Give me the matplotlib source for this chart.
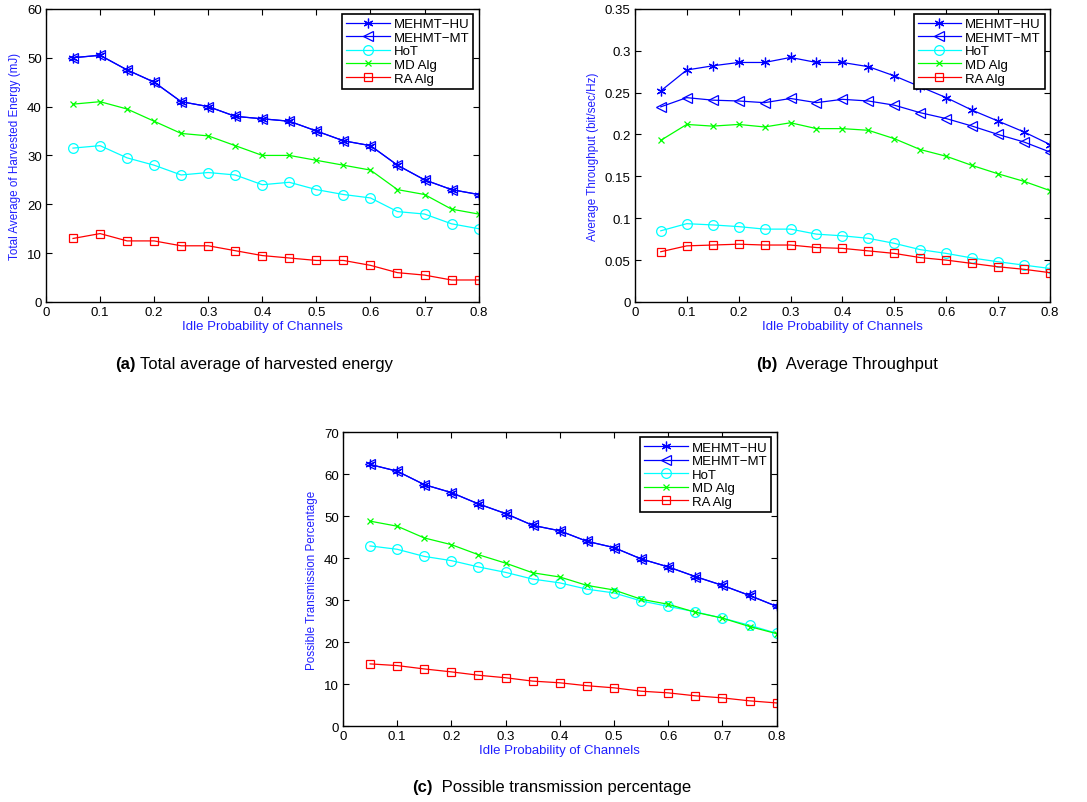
# ------------------------------------------------------------
# Harvested energy / throughput / transmission vs idle probability
# ------------------------------------------------------------
import matplotlib
matplotlib.use("Agg")
import matplotlib.pyplot as plt

plt.rcParams["font.family"] = ["Liberation Sans", "DejaVu Sans"]

# ------------------------------------------------------------
# Data
# ------------------------------------------------------------
idle_prob = [0.05, 0.10, 0.15, 0.20, 0.25, 0.30, 0.35, 0.40,
             0.45, 0.50, 0.55, 0.60, 0.65, 0.70, 0.75, 0.80]
series_names = ["MEHMT\u2212HU", "MEHMT\u2212MT", "HoT", "MD Alg", "RA Alg"]

# (a) total average of harvested energy (mJ)
energy_hu = [50, 50.5, 47.5, 45, 41, 40, 38, 37.5, 37, 35, 33, 32, 28, 25, 23, 22]
energy_mt = [50, 50.5, 47.5, 45, 41, 40, 38, 37.5, 37, 35, 33, 32, 28, 25, 23, 22]
energy_hot = [31.5, 32, 29.5, 28, 26, 26.5, 26, 24, 24.5, 23, 22, 21.3, 18.5, 18, 16, 15]
energy_md = [40.5, 41, 39.5, 37, 34.5, 34, 32, 30, 30, 29, 28, 27, 23, 22, 19, 18]
energy_ra = [13, 14, 12.5, 12.5, 11.5, 11.5, 10.5, 9.5, 9, 8.5, 8.5, 7.5, 6, 5.5, 4.5, 4.5]

# (b) average throughput (bit/sec/Hz)
thr_hu = [0.252, 0.277, 0.282, 0.286, 0.286, 0.292, 0.286, 0.286,
          0.281, 0.270, 0.257, 0.244, 0.229, 0.216, 0.203, 0.188]
thr_mt = [0.233, 0.244, 0.241, 0.240, 0.238, 0.243, 0.238, 0.242,
          0.240, 0.235, 0.226, 0.219, 0.210, 0.200, 0.191, 0.179]
thr_hot = [0.085, 0.0935, 0.092, 0.090, 0.087, 0.087, 0.081, 0.079,
           0.076, 0.070, 0.0625, 0.058, 0.0525, 0.048, 0.044, 0.040]
thr_md = [0.193, 0.212, 0.210, 0.212, 0.209, 0.214, 0.207, 0.207,
          0.205, 0.195, 0.182, 0.174, 0.163, 0.153, 0.144, 0.133]
thr_ra = [0.060, 0.067, 0.068, 0.069, 0.068, 0.068, 0.065, 0.064,
          0.061, 0.058, 0.053, 0.050, 0.046, 0.042, 0.039, 0.035]

# (c) possible transmission percentage
tx_hu = [62.3, 60.7, 57.5, 55.6, 52.9, 50.6, 47.8, 46.5,
         44.0, 42.5, 39.8, 37.9, 35.6, 33.5, 31.1, 28.5]
tx_mt = [62.3, 60.7, 57.5, 55.6, 52.9, 50.6, 47.8, 46.5,
         44.0, 42.5, 39.8, 37.9, 35.6, 33.5, 31.1, 28.5]
tx_hot = [42.9, 42.1, 40.4, 39.4, 37.9, 36.6, 35.0, 34.1,
          32.6, 31.7, 29.8, 28.5, 27.2, 25.7, 24.0, 22.1]
tx_md = [48.8, 47.6, 44.8, 43.2, 40.8, 38.8, 36.5, 35.5,
         33.5, 32.4, 30.2, 29.0, 27.1, 25.7, 23.7, 22.0]
tx_ra = [14.8, 14.4, 13.6, 12.9, 12.1, 11.5, 10.7, 10.3,
         9.6, 9.1, 8.3, 7.9, 7.2, 6.7, 6.0, 5.5]

# ------------------------------------------------------------
# Styles (MATLAB-like)
# ------------------------------------------------------------
styles = [
    dict(color="#0000ff", marker=(6, 2, 0), ms=7, mfc="none"),
    dict(color="#0000ff", marker="<", ms=7, mfc="none"),
    dict(color="#00ffff", marker="o", ms=7, mfc="none"),
    dict(color="#00ff00", marker="x", ms=5, mfc="none"),
    dict(color="#ff0000", marker="s", ms=6, mfc="none"),
]
label_blue = "#2020ff"


def draw_panel(ax, series, ylim, yticks, ylabel):
    for vals, name, st in zip(series, series_names, styles):
        ax.plot(idle_prob, vals, lw=0.9, mew=0.9, label=name, **st)
    ax.set_xlim(0, 0.8)
    ax.set_ylim(*ylim)
    ax.set_xticks([0, 0.1, 0.2, 0.3, 0.4, 0.5, 0.6, 0.7, 0.8])
    ax.set_xticklabels(["0", "0.1", "0.2", "0.3", "0.4", "0.5", "0.6", "0.7", "0.8"])
    ax.set_yticks(yticks)
    ax.set_yticklabels([f"{v:g}" for v in yticks])
    ax.tick_params(direction="in", top=True, right=True, labelsize=9.5,
                   length=4, width=0.8, pad=3)
    for sp in ax.spines.values():
        sp.set_linewidth(1.0)
    ax.set_xlabel("Idle Probability of Channels", color=label_blue, fontsize=9.5, labelpad=1)
    ax.set_ylabel(ylabel, color=label_blue, fontsize=8.4, labelpad=4)
    leg = ax.legend(loc="upper right", fontsize=9.5, handlelength=3.3,
                    borderpad=0.3, labelspacing=0.1, handletextpad=0.3,
                    fancybox=False, framealpha=1, borderaxespad=0.4)
    leg.get_frame().set_edgecolor("black")
    leg.get_frame().set_linewidth(1.2)


fig = plt.figure(figsize=(10.87, 8.03), dpi=100)

ax_a = fig.add_axes([0.0423, 0.6227, 0.398, 0.365])
draw_panel(ax_a, [energy_hu, energy_mt, energy_hot, energy_md, energy_ra],
           (0, 60), [0, 10, 20, 30, 40, 50, 60],
           "Total Average of Harvested Energy (mJ)")

ax_b = fig.add_axes([0.584, 0.6227, 0.382, 0.365])
draw_panel(ax_b, [thr_hu, thr_mt, thr_hot, thr_md, thr_ra],
           (0, 0.35), [0, 0.05, 0.1, 0.15, 0.2, 0.25, 0.3, 0.35],
           "Average Throughput (bit/sec/Hz)")

ax_c = fig.add_axes([0.3155, 0.0946, 0.399, 0.366])
draw_panel(ax_c, [tx_hu, tx_mt, tx_hot, tx_md, tx_ra],
           (0, 70), [0, 10, 20, 30, 40, 50, 60, 70],
           "Possible Transmission Percentage")

# ------------------------------------------------------------
# Sub-captions
# ------------------------------------------------------------
def caption(x, y, tag, text):
    fig.text(x, y, tag, fontsize=12, fontweight="bold", ha="right", va="center")
    fig.text(x + 0.004, y, text, fontsize=12, ha="left", va="center")

caption(0.125, 1 - 364 / 803, "(a)", "Total average of harvested energy")
caption(0.715, 1 - 364 / 803, "(b)", " Average Throughput")
caption(0.398, 1 - 788 / 803, "(c)", " Possible transmission percentage")

plt.savefig("out.png", dpi=100)
